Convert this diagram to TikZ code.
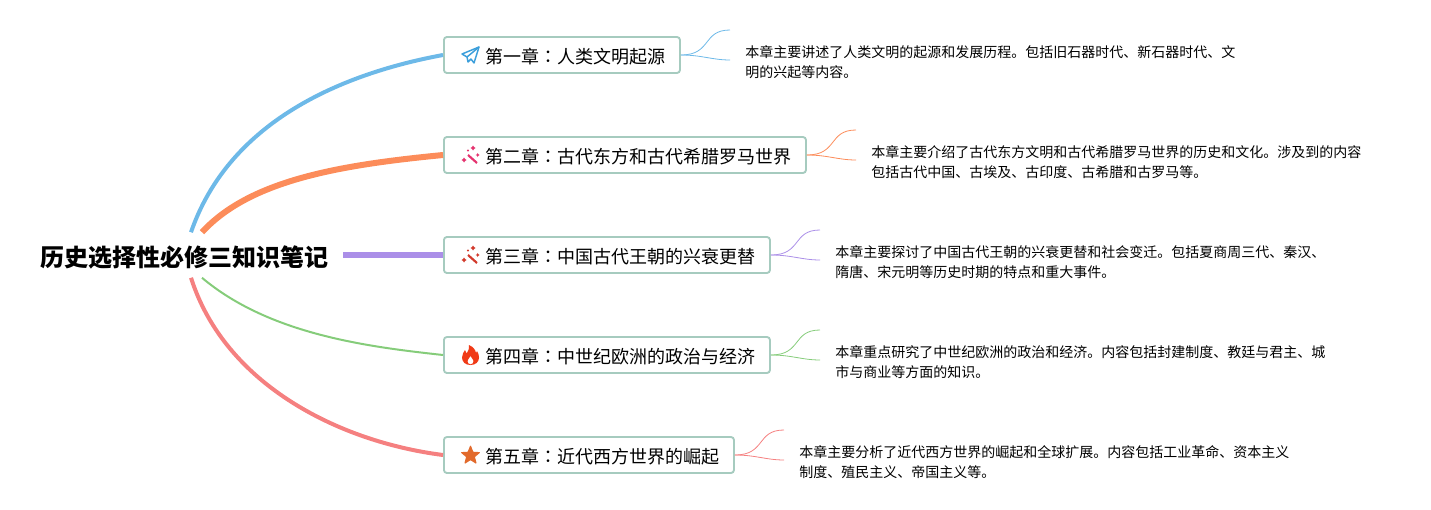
\documentclass[tikz,border=0pt]{standalone}
\usepackage{fontspec}
\usepackage{tikz}
\usetikzlibrary{shapes.geometric}
\setmainfont{Noto Sans CJK SC}
\newfontfamily\colonfont{Noto Sans CJK TC}
\newcommand{\chcolon}{{\colonfont ：}}
\definecolor{boxline}{HTML}{A6CBBF}
\definecolor{lineblue}{HTML}{6DB9E8}
\definecolor{lineorange}{HTML}{FC8C5A}
\definecolor{linepurple}{HTML}{AB8FE8}
\definecolor{linegreen}{HTML}{85CC7A}
\definecolor{linered}{HTML}{F58080}
\definecolor{iconblue}{HTML}{3C9FDB}
\definecolor{iconpink}{HTML}{E5336F}
\definecolor{iconred}{HTML}{D23A2C}
\definecolor{iconfire}{HTML}{F03A17}
\definecolor{iconstar}{HTML}{E26A2C}
\tikzset{
	rootnode/.style={minimum width=238.5pt,minimum height=33.75pt,inner sep=0pt,text height=16.5pt,text depth=0pt,font=\bfseries\fontsize{18}{22}\selectfont},
	chapter/.style={draw=boxline,line width=1.4pt,rounded corners=2.2pt,anchor=west,minimum height=27pt,inner ysep=0pt,inner xsep=10.5pt,text height=13.5pt,text depth=0.3pt,fill=white,font=\fontsize{13.5}{16}\selectfont},
	summary/.style={anchor=west,align=left,inner ysep=0pt,inner xsep=11.25pt,font=\fontsize{10.5}{15}\selectfont},
	trunk/.style={line cap=butt},
	twig/.style={line width=0.6pt},
	plane/.pic={
		\draw[color=#1,line width=1.1pt,line join=round] (9,-8) -- (-8,-1) -- (-3,2) -- (-2,7) -- (1,4) -- (4,8) -- cycle;
		\draw[color=#1,line width=1.1pt,line join=round] (9,-8) -- (-3,2);
	},
	wand/.pic={
		\draw[color=#1,line width=1.6pt] (-2,0) -- (7,8);
		\fill[color=#1] (-6,2.5) -- (-5,4) -- (-3.5,5) -- (-5,6) -- (-6,7.5) -- (-7,6) -- (-8.5,5) -- (-7,4) -- cycle;
		\fill[color=#1] (3,-9.5) -- (4,-8) -- (5.5,-7) -- (4,-6) -- (3,-4.5) -- (2,-6) -- (0.5,-7) -- (2,-8) -- cycle;
		\fill[color=#1] (7.7,-2) -- (8.4,-0.7) -- (9.7,0) -- (8.4,0.7) -- (7.7,2) -- (7,0.7) -- (5.7,0) -- (7,-0.7) -- cycle;
		\fill[color=#1] (-2,-4.5) circle (1.1);
	},
	flame/.pic={
		\fill[color=#1,even odd rule] (0,10) .. controls (-5,10) and (-8.5,7) .. (-8.5,2.5) .. controls (-8.5,-1) and (-6.5,-3) .. (-5.5,-5) .. controls (-4.5,-3.5) and (-4.2,-2.5) .. (-3.8,-1.5) .. controls (-2,-4) and (-1,-7) .. (-1.5,-10) .. controls (3,-8) and (5,-5) .. (5.5,-2) .. controls (6,-2.8) and (6.2,-3.2) .. (6.5,-4) .. controls (8,-1.5) and (8.5,0.5) .. (8.5,2.5) .. controls (8.5,7) and (5,10) .. (0,10) -- cycle
		(0,9.5) .. controls (-2,9.5) and (-3,7.5) .. (-3,6) .. controls (-3,4) and (-1,3.5) .. (0,1) .. controls (1,3.5) and (3,4) .. (3,6) .. controls (3,7.5) and (2,9.5) .. (0,9.5) -- cycle;
	},
	starmark/.pic={
		\node[star,star points=5,star point ratio=2.3,fill=#1,draw=#1,line width=0.8pt,line join=round,minimum size=14pt,inner sep=0pt] (mark) at (0,0.5) {};
	}
}
\begin{document}
\begin{tikzpicture}[x=0.75pt,y=-0.75pt]
	\useasboundingbox (0,0) rectangle (1431,510);
	\node[rootnode] (root) at (184,255) {历史选择性必修三知识笔记};
	\node[chapter] (ch1) at (443,55) {\hspace*{21pt}第一章\chcolon 人类文明起源};
	\node[chapter] (ch2) at (443,155) {\hspace*{21pt}第二章\chcolon 古代东方和古代希腊罗马世界};
	\node[chapter] (ch3) at (443,255) {\hspace*{21pt}第三章\chcolon 中国古代王朝的兴衰更替};
	\node[chapter] (ch4) at (443,355) {\hspace*{21pt}第四章\chcolon 中世纪欧洲的政治与经济};
	\node[chapter] (ch5) at (443,455) {\hspace*{21pt}第五章\chcolon 近代西方世界的崛起};
	\node[summary] (sum1) at (730,62) {本章主要讲述了人类文明的起源和发展历程。包括旧石器时代、新石器时代、文\\明的兴起等内容。};
	\node[summary] (sum2) at (856,162) {本章主要介绍了古代东方文明和古代希腊罗马世界的历史和文化。涉及到的内容\\包括古代中国、古埃及、古印度、古希腊和古罗马等。};
	\node[summary] (sum3) at (820,262) {本章主要探讨了中国古代王朝的兴衰更替和社会变迁。包括夏商周三代、秦汉、\\隋唐、宋元明等历史时期的特点和重大事件。};
	\node[summary] (sum4) at (820,362) {本章重点研究了中世纪欧洲的政治和经济。内容包括封建制度、教廷与君主、城\\市与商业等方面的知识。};
	\node[summary] (sum5) at (784,462) {本章主要分析了近代西方世界的崛起和全球扩展。内容包括工业革命、资本主义\\制度、殖民主义、帝国主义等。};

	\draw[trunk,lineblue,line width=3pt] ([shift={(7,0)}]root.north) .. controls (228,125) and (335,75) .. (ch1.west);
	\draw[trunk,lineorange,line width=4.5pt] ([shift={(18,0)}]root.north) .. controls (250,180) and (340,165) .. (ch2.west);
	\draw[trunk,linepurple,line width=3.8pt] (root.east) -- (ch3.west);
	\draw[trunk,linegreen,line width=1.5pt] ([shift={(18,0)}]root.south) .. controls (270,335) and (370,347) .. (ch4.west);
	\draw[trunk,linered,line width=3pt] ([shift={(7,0)}]root.south) .. controls (225,385) and (340,442) .. (ch5.west);

	\draw[twig,lineblue] (ch1.east) .. controls (712,55) and (702,30) .. ([shift={(0,-32)}]sum1.west);
	\draw[twig,lineblue] (ch1.east) .. controls (702,55) and (712,60) .. ([shift={(0,-2)}]sum1.west);
	\draw[twig,lineorange] (ch2.east) .. controls (838,155) and (828,130) .. ([shift={(0,-32)}]sum2.west);
	\draw[twig,lineorange] (ch2.east) .. controls (828,155) and (838,160) .. ([shift={(0,-2)}]sum2.west);
	\draw[twig,linepurple] (ch3.east) .. controls (802,255) and (792,230) .. ([shift={(0,-32)}]sum3.west);
	\draw[twig,linepurple] (ch3.east) .. controls (792,255) and (802,260) .. ([shift={(0,-2)}]sum3.west);
	\draw[twig,linegreen] (ch4.east) .. controls (802,355) and (792,330) .. ([shift={(0,-32)}]sum4.west);
	\draw[twig,linegreen] (ch4.east) .. controls (792,355) and (802,360) .. ([shift={(0,-2)}]sum4.west);
	\draw[twig,linered] (ch5.east) .. controls (766,455) and (756,430) .. ([shift={(0,-32)}]sum5.west);
	\draw[twig,linered] (ch5.east) .. controls (756,455) and (766,460) .. ([shift={(0,-2)}]sum5.west);

	\pic at (470,55) {plane={iconblue}};
	\pic at (470,155) {wand={iconpink}};
	\pic at (470,255) {wand={iconred}};
	\pic at (470.5,355) {flame={iconfire}};
	\pic at (470.5,455) {starmark={iconstar}};
\end{tikzpicture}
\end{document}
